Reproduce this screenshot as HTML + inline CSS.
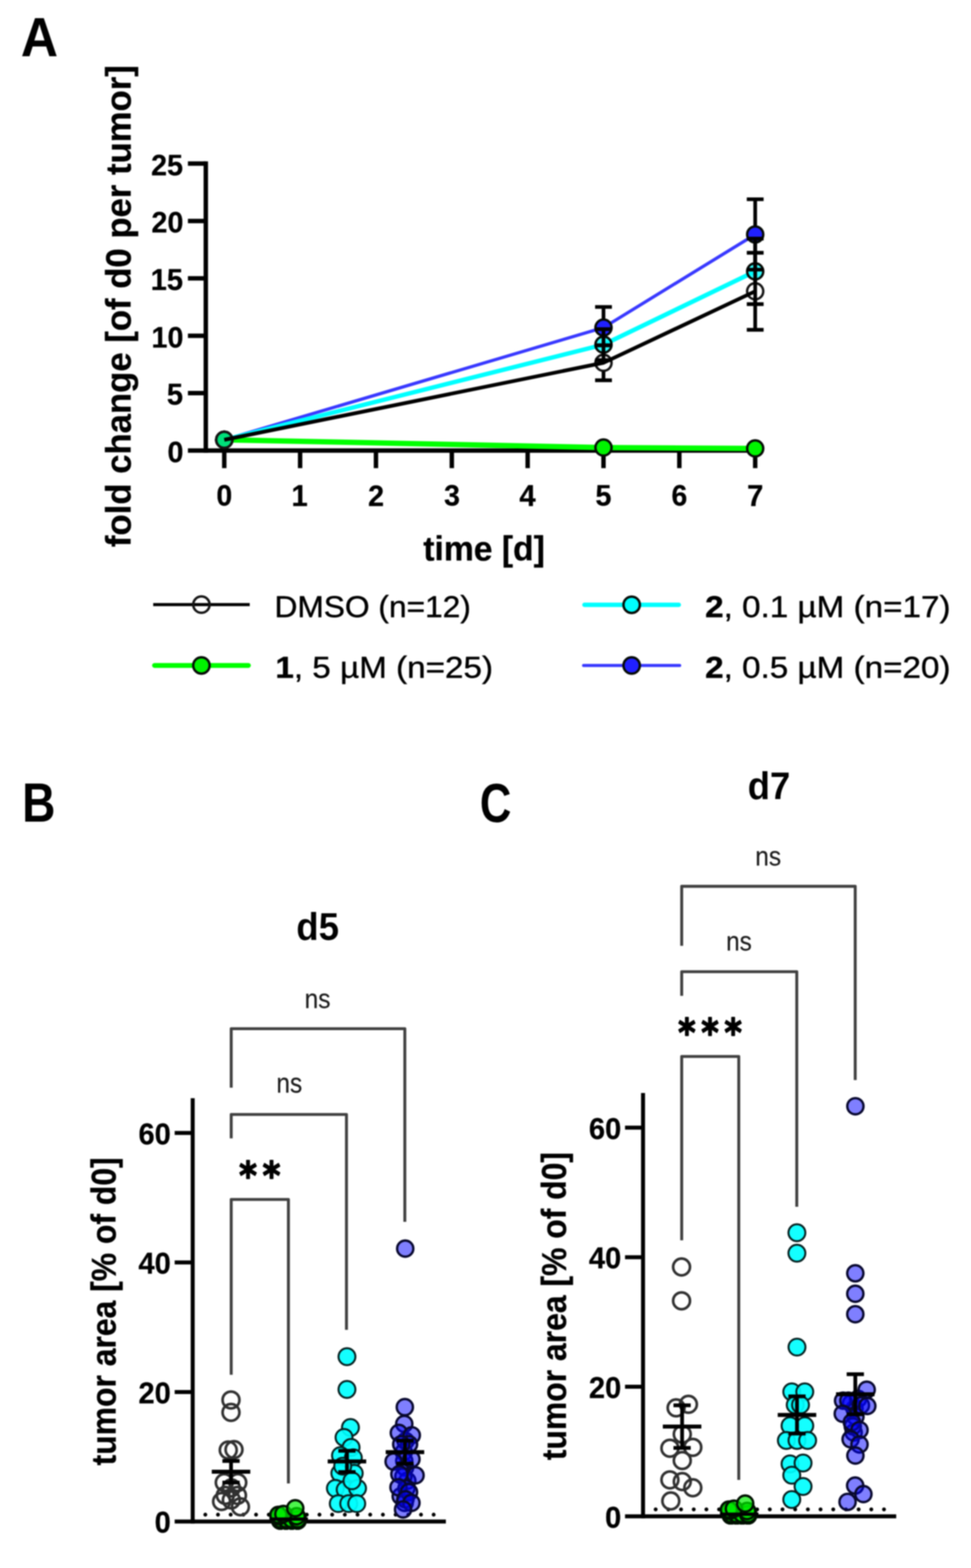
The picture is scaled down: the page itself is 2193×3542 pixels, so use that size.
<!DOCTYPE html>
<html lang="en"><head><meta charset="utf-8"><title>Figure</title>
<style>
html,body{margin:0;padding:0;background:#fff;}
body{width:2193px;height:3542px;overflow:hidden;}
svg{display:block;filter:blur(1.50px);}
text{font-size:100px;white-space:pre;font-kerning:auto;}
</style></head><body>
<svg width="2193" height="3542" viewBox="0 0 2193 3542">
<rect width="2193" height="3542" fill="#fff"/>
<g id="shapes">
<line x1="464.8" y1="364.6" x2="464.8" y2="1022.8" stroke="#000" stroke-width="10.0" stroke-linecap="butt"/>
<line x1="424.4" y1="1017.8" x2="1710.6" y2="1017.8" stroke="#000" stroke-width="10.0" stroke-linecap="butt"/>
<line x1="424.4" y1="888.1" x2="464.8" y2="888.1" stroke="#000" stroke-width="10.0" stroke-linecap="butt"/>
<line x1="424.4" y1="758.5" x2="464.8" y2="758.5" stroke="#000" stroke-width="10.0" stroke-linecap="butt"/>
<line x1="424.4" y1="628.8" x2="464.8" y2="628.8" stroke="#000" stroke-width="10.0" stroke-linecap="butt"/>
<line x1="424.4" y1="499.2" x2="464.8" y2="499.2" stroke="#000" stroke-width="10.0" stroke-linecap="butt"/>
<line x1="424.4" y1="369.5" x2="464.8" y2="369.5" stroke="#000" stroke-width="10.0" stroke-linecap="butt"/>
<line x1="506.5" y1="1017.8" x2="506.5" y2="1057.5" stroke="#000" stroke-width="10.0" stroke-linecap="butt"/>
<line x1="677.8" y1="1017.8" x2="677.8" y2="1057.5" stroke="#000" stroke-width="10.0" stroke-linecap="butt"/>
<line x1="849.1" y1="1017.8" x2="849.1" y2="1057.5" stroke="#000" stroke-width="10.0" stroke-linecap="butt"/>
<line x1="1020.4" y1="1017.8" x2="1020.4" y2="1057.5" stroke="#000" stroke-width="10.0" stroke-linecap="butt"/>
<line x1="1191.7" y1="1017.8" x2="1191.7" y2="1057.5" stroke="#000" stroke-width="10.0" stroke-linecap="butt"/>
<line x1="1363.0" y1="1017.8" x2="1363.0" y2="1057.5" stroke="#000" stroke-width="10.0" stroke-linecap="butt"/>
<line x1="1534.3" y1="1017.8" x2="1534.3" y2="1057.5" stroke="#000" stroke-width="10.0" stroke-linecap="butt"/>
<line x1="1705.6" y1="1017.8" x2="1705.6" y2="1057.5" stroke="#000" stroke-width="10.0" stroke-linecap="butt"/>
<polyline points="506.5,993.5 1363.0,740.0 1705.6,529.6" fill="none" stroke="#3838ff" stroke-width="7.3" stroke-linejoin="round" stroke-linecap="butt"/>
<polyline points="506.5,993.5 1363.0,778.5 1705.6,613.0" fill="none" stroke="#00ffff" stroke-width="10.0" stroke-linejoin="round" stroke-linecap="butt"/>
<polyline points="506.5,993.5 1363.0,1011.0 1705.6,1013.0" fill="none" stroke="#00ff00" stroke-width="12.0" stroke-linejoin="round" stroke-linecap="butt"/>
<circle cx="506.5" cy="993.5" r="18.2" fill="#2020ff" fill-opacity="1.00" stroke="#050a05" stroke-width="5.5"/>
<circle cx="1363.0" cy="740.0" r="18.2" fill="#2020ff" fill-opacity="1.00" stroke="#050a05" stroke-width="5.5"/>
<circle cx="1705.6" cy="529.6" r="18.2" fill="#2020ff" fill-opacity="1.00" stroke="#050a05" stroke-width="5.5"/>
<circle cx="506.5" cy="993.5" r="18.2" fill="#00ffff" fill-opacity="0.80" stroke="#050a05" stroke-width="5.5"/>
<circle cx="1363.0" cy="778.5" r="18.2" fill="#00ffff" fill-opacity="0.80" stroke="#050a05" stroke-width="5.5"/>
<circle cx="1705.6" cy="613.0" r="18.2" fill="#00ffff" fill-opacity="0.80" stroke="#050a05" stroke-width="5.5"/>
<circle cx="506.5" cy="993.5" r="18.2" fill="#00f400" fill-opacity="1.00" stroke="#050a05" stroke-width="5.5"/>
<circle cx="1363.0" cy="1011.0" r="18.2" fill="#00f400" fill-opacity="1.00" stroke="#050a05" stroke-width="5.5"/>
<circle cx="1705.6" cy="1013.0" r="18.2" fill="#00f400" fill-opacity="1.00" stroke="#050a05" stroke-width="5.5"/>
<circle cx="506.5" cy="993.5" r="18.2" fill="#00e07a" fill-opacity="1.00" stroke="#050a05" stroke-width="5.5"/>
<circle cx="506.5" cy="993.5" r="18.2" fill="#fff" fill-opacity="0.00" stroke="#141414" stroke-width="5.5"/>
<circle cx="1363.0" cy="819.5" r="18.2" fill="#fff" fill-opacity="0.00" stroke="#141414" stroke-width="5.5"/>
<circle cx="1705.6" cy="658.0" r="18.2" fill="#fff" fill-opacity="0.00" stroke="#141414" stroke-width="5.5"/>
<polyline points="506.5,993.5 1363.0,819.5 1705.6,658.0" fill="none" stroke="#000" stroke-width="8.5" stroke-linejoin="round" stroke-linecap="butt"/>
<line x1="1363.0" y1="693.3" x2="1363.0" y2="720.2" stroke="#000" stroke-width="8.3" stroke-linecap="butt"/>
<line x1="1363.0" y1="759.8" x2="1363.0" y2="780.0" stroke="#000" stroke-width="8.3" stroke-linecap="butt"/>
<line x1="1344.0" y1="693.3" x2="1382.0" y2="693.3" stroke="#000" stroke-width="8.3" stroke-linecap="butt"/>
<line x1="1344.0" y1="780.0" x2="1382.0" y2="780.0" stroke="#000" stroke-width="8.3" stroke-linecap="butt"/>
<line x1="1705.6" y1="450.1" x2="1705.6" y2="509.8" stroke="#000" stroke-width="8.3" stroke-linecap="butt"/>
<line x1="1705.6" y1="549.4" x2="1705.6" y2="609.1" stroke="#000" stroke-width="8.3" stroke-linecap="butt"/>
<line x1="1686.6" y1="450.1" x2="1724.6" y2="450.1" stroke="#000" stroke-width="8.3" stroke-linecap="butt"/>
<line x1="1686.6" y1="609.1" x2="1724.6" y2="609.1" stroke="#000" stroke-width="8.3" stroke-linecap="butt"/>
<line x1="1363.0" y1="743.5" x2="1363.0" y2="758.7" stroke="#000" stroke-width="8.3" stroke-linecap="butt"/>
<line x1="1363.0" y1="798.3" x2="1363.0" y2="813.5" stroke="#000" stroke-width="8.3" stroke-linecap="butt"/>
<line x1="1344.0" y1="743.5" x2="1382.0" y2="743.5" stroke="#000" stroke-width="8.3" stroke-linecap="butt"/>
<line x1="1344.0" y1="813.5" x2="1382.0" y2="813.5" stroke="#000" stroke-width="8.3" stroke-linecap="butt"/>
<line x1="1705.6" y1="539.0" x2="1705.6" y2="593.2" stroke="#000" stroke-width="8.3" stroke-linecap="butt"/>
<line x1="1705.6" y1="632.8" x2="1705.6" y2="687.0" stroke="#000" stroke-width="8.3" stroke-linecap="butt"/>
<line x1="1686.6" y1="539.0" x2="1724.6" y2="539.0" stroke="#000" stroke-width="8.3" stroke-linecap="butt"/>
<line x1="1686.6" y1="687.0" x2="1724.6" y2="687.0" stroke="#000" stroke-width="8.3" stroke-linecap="butt"/>
<line x1="1363.0" y1="780.0" x2="1363.0" y2="799.7" stroke="#000" stroke-width="8.3" stroke-linecap="butt"/>
<line x1="1363.0" y1="839.3" x2="1363.0" y2="859.0" stroke="#000" stroke-width="8.3" stroke-linecap="butt"/>
<line x1="1344.0" y1="780.0" x2="1382.0" y2="780.0" stroke="#000" stroke-width="8.3" stroke-linecap="butt"/>
<line x1="1344.0" y1="859.0" x2="1382.0" y2="859.0" stroke="#000" stroke-width="8.3" stroke-linecap="butt"/>
<line x1="1705.6" y1="571.0" x2="1705.6" y2="638.2" stroke="#000" stroke-width="8.3" stroke-linecap="butt"/>
<line x1="1705.6" y1="677.8" x2="1705.6" y2="745.0" stroke="#000" stroke-width="8.3" stroke-linecap="butt"/>
<line x1="1686.6" y1="571.0" x2="1724.6" y2="571.0" stroke="#000" stroke-width="8.3" stroke-linecap="butt"/>
<line x1="1686.6" y1="745.0" x2="1724.6" y2="745.0" stroke="#000" stroke-width="8.3" stroke-linecap="butt"/>
<line x1="346.0" y1="1365.8" x2="564.0" y2="1365.8" stroke="#000" stroke-width="7.0" stroke-linecap="butt"/>
<circle cx="454.9" cy="1365.8" r="18.5" fill="#fff" fill-opacity="0.00" stroke="#141414" stroke-width="5.5"/>
<line x1="349.0" y1="1503.2" x2="561.0" y2="1503.2" stroke="#00ff00" stroke-width="11.0" stroke-linecap="round"/>
<circle cx="454.9" cy="1503.2" r="18.5" fill="#00f400" fill-opacity="1.00" stroke="#050a05" stroke-width="5.5"/>
<line x1="1320.0" y1="1366.2" x2="1533.0" y2="1366.2" stroke="#00ffff" stroke-width="10.0" stroke-linecap="round"/>
<circle cx="1426.6" cy="1366.2" r="18.5" fill="#00ffff" fill-opacity="1.00" stroke="#050a05" stroke-width="5.5"/>
<line x1="1318.0" y1="1503.3" x2="1535.0" y2="1503.3" stroke="#3838ff" stroke-width="7.0" stroke-linecap="round"/>
<circle cx="1426.6" cy="1503.3" r="18.5" fill="#2020ff" fill-opacity="1.00" stroke="#050a05" stroke-width="5.5"/>
<circle cx="463.7" cy="3421.5" r="4.4" fill="#000"/>
<circle cx="492.3" cy="3421.5" r="4.4" fill="#000"/>
<circle cx="521.0" cy="3421.5" r="4.4" fill="#000"/>
<circle cx="549.6" cy="3421.5" r="4.4" fill="#000"/>
<circle cx="578.3" cy="3421.5" r="4.4" fill="#000"/>
<circle cx="607.0" cy="3421.5" r="4.4" fill="#000"/>
<circle cx="635.6" cy="3421.5" r="4.4" fill="#000"/>
<circle cx="664.2" cy="3421.5" r="4.4" fill="#000"/>
<circle cx="692.9" cy="3421.5" r="4.4" fill="#000"/>
<circle cx="721.5" cy="3421.5" r="4.4" fill="#000"/>
<circle cx="750.2" cy="3421.5" r="4.4" fill="#000"/>
<circle cx="778.8" cy="3421.5" r="4.4" fill="#000"/>
<circle cx="807.5" cy="3421.5" r="4.4" fill="#000"/>
<circle cx="836.1" cy="3421.5" r="4.4" fill="#000"/>
<circle cx="864.8" cy="3421.5" r="4.4" fill="#000"/>
<circle cx="893.5" cy="3421.5" r="4.4" fill="#000"/>
<circle cx="922.1" cy="3421.5" r="4.4" fill="#000"/>
<circle cx="950.8" cy="3421.5" r="4.4" fill="#000"/>
<circle cx="979.4" cy="3421.5" r="4.4" fill="#000"/>
<line x1="435.2" y1="2480.8" x2="435.2" y2="3441.6" stroke="#000" stroke-width="9.0" stroke-linecap="butt"/>
<line x1="394.5" y1="3437.1" x2="1007.0" y2="3437.1" stroke="#000" stroke-width="9.0" stroke-linecap="butt"/>
<line x1="394.5" y1="3144.5" x2="435.2" y2="3144.5" stroke="#000" stroke-width="9.0" stroke-linecap="butt"/>
<line x1="394.5" y1="2851.8" x2="435.2" y2="2851.8" stroke="#000" stroke-width="9.0" stroke-linecap="butt"/>
<line x1="394.5" y1="2559.2" x2="435.2" y2="2559.2" stroke="#000" stroke-width="9.0" stroke-linecap="butt"/>
<polyline points="522.2,3105.6 522.2,2709.5 651.4,2709.5 651.4,3351.0" fill="none" stroke="#404040" stroke-width="6.6" stroke-linejoin="round" stroke-linecap="butt"/>
<polyline points="522.2,2571.4 522.2,2517.5 782.5,2517.5 782.5,3004.0" fill="none" stroke="#404040" stroke-width="6.6" stroke-linejoin="round" stroke-linecap="butt"/>
<polyline points="522.2,2457.1 522.2,2323.8 914.3,2323.8 914.3,2760.0" fill="none" stroke="#404040" stroke-width="6.6" stroke-linejoin="round" stroke-linecap="butt"/>
<circle cx="521.7" cy="3162.4" r="19.0" fill="#fff" fill-opacity="0.00" stroke="#303030" stroke-width="6.0"/>
<circle cx="521.7" cy="3190.5" r="19.0" fill="#fff" fill-opacity="0.00" stroke="#303030" stroke-width="6.0"/>
<circle cx="515.5" cy="3275.6" r="19.0" fill="#fff" fill-opacity="0.00" stroke="#303030" stroke-width="6.0"/>
<circle cx="528.5" cy="3274.5" r="19.0" fill="#fff" fill-opacity="0.00" stroke="#303030" stroke-width="6.0"/>
<circle cx="506.5" cy="3349.0" r="19.0" fill="#fff" fill-opacity="0.00" stroke="#303030" stroke-width="6.0"/>
<circle cx="537.0" cy="3349.0" r="19.0" fill="#fff" fill-opacity="0.00" stroke="#303030" stroke-width="6.0"/>
<circle cx="522.5" cy="3361.0" r="19.0" fill="#fff" fill-opacity="0.00" stroke="#303030" stroke-width="6.0"/>
<circle cx="508.8" cy="3378.0" r="19.0" fill="#fff" fill-opacity="0.00" stroke="#303030" stroke-width="6.0"/>
<circle cx="536.3" cy="3378.0" r="19.0" fill="#fff" fill-opacity="0.00" stroke="#303030" stroke-width="6.0"/>
<circle cx="522.5" cy="3388.3" r="19.0" fill="#fff" fill-opacity="0.00" stroke="#303030" stroke-width="6.0"/>
<circle cx="500.5" cy="3391.7" r="19.0" fill="#fff" fill-opacity="0.00" stroke="#303030" stroke-width="6.0"/>
<circle cx="543.0" cy="3403.8" r="19.0" fill="#fff" fill-opacity="0.00" stroke="#303030" stroke-width="6.0"/>
<line x1="521.8" y1="3300.3" x2="521.8" y2="3348.9" stroke="#000" stroke-width="8.5" stroke-linecap="butt"/>
<line x1="502.3" y1="3300.3" x2="541.3" y2="3300.3" stroke="#000" stroke-width="8.5" stroke-linecap="butt"/>
<line x1="502.3" y1="3348.9" x2="541.3" y2="3348.9" stroke="#000" stroke-width="8.5" stroke-linecap="butt"/>
<line x1="478.3" y1="3324.6" x2="565.3" y2="3324.6" stroke="#000" stroke-width="9.0" stroke-linecap="butt"/>
<circle cx="633.0" cy="3435.0" r="18.3" fill="#00f000" fill-opacity="0.70" stroke="#001000" stroke-width="5.4"/>
<circle cx="646.0" cy="3435.0" r="18.3" fill="#00f000" fill-opacity="0.70" stroke="#001000" stroke-width="5.4"/>
<circle cx="659.0" cy="3435.0" r="18.3" fill="#00f000" fill-opacity="0.70" stroke="#001000" stroke-width="5.4"/>
<circle cx="672.0" cy="3435.0" r="18.3" fill="#00f000" fill-opacity="0.70" stroke="#001000" stroke-width="5.4"/>
<circle cx="633.0" cy="3435.0" r="18.3" fill="#00f000" fill-opacity="0.70" stroke="#001000" stroke-width="5.4"/>
<circle cx="646.0" cy="3435.0" r="18.3" fill="#00f000" fill-opacity="0.70" stroke="#001000" stroke-width="5.4"/>
<circle cx="659.0" cy="3435.0" r="18.3" fill="#00f000" fill-opacity="0.70" stroke="#001000" stroke-width="5.4"/>
<circle cx="672.0" cy="3435.0" r="18.3" fill="#00f000" fill-opacity="0.70" stroke="#001000" stroke-width="5.4"/>
<circle cx="633.0" cy="3435.0" r="18.3" fill="#00f000" fill-opacity="0.70" stroke="#001000" stroke-width="5.4"/>
<circle cx="646.0" cy="3435.0" r="18.3" fill="#00f000" fill-opacity="0.70" stroke="#001000" stroke-width="5.4"/>
<circle cx="659.0" cy="3435.0" r="18.3" fill="#00f000" fill-opacity="0.70" stroke="#001000" stroke-width="5.4"/>
<circle cx="672.0" cy="3435.0" r="18.3" fill="#00f000" fill-opacity="0.70" stroke="#001000" stroke-width="5.4"/>
<circle cx="633.0" cy="3432.0" r="18.3" fill="#00f000" fill-opacity="0.70" stroke="#001000" stroke-width="5.4"/>
<circle cx="646.0" cy="3432.0" r="18.3" fill="#00f000" fill-opacity="0.70" stroke="#001000" stroke-width="5.4"/>
<circle cx="659.0" cy="3432.0" r="18.3" fill="#00f000" fill-opacity="0.70" stroke="#001000" stroke-width="5.4"/>
<circle cx="672.0" cy="3432.0" r="18.3" fill="#00f000" fill-opacity="0.70" stroke="#001000" stroke-width="5.4"/>
<circle cx="633.0" cy="3432.0" r="18.3" fill="#00f000" fill-opacity="0.70" stroke="#001000" stroke-width="5.4"/>
<circle cx="646.0" cy="3432.0" r="18.3" fill="#00f000" fill-opacity="0.70" stroke="#001000" stroke-width="5.4"/>
<circle cx="659.0" cy="3432.0" r="18.3" fill="#00f000" fill-opacity="0.70" stroke="#001000" stroke-width="5.4"/>
<circle cx="672.0" cy="3432.0" r="18.3" fill="#00f000" fill-opacity="0.70" stroke="#001000" stroke-width="5.4"/>
<circle cx="630.0" cy="3425.0" r="18.3" fill="#00f000" fill-opacity="0.70" stroke="#001000" stroke-width="5.4"/>
<circle cx="670.0" cy="3425.0" r="18.3" fill="#00f000" fill-opacity="0.70" stroke="#001000" stroke-width="5.4"/>
<circle cx="628.7" cy="3422.0" r="18.3" fill="#00f000" fill-opacity="0.70" stroke="#001000" stroke-width="5.4"/>
<circle cx="640.0" cy="3420.0" r="18.3" fill="#00f000" fill-opacity="0.70" stroke="#001000" stroke-width="5.4"/>
<circle cx="666.8" cy="3407.0" r="18.3" fill="#00f000" fill-opacity="0.70" stroke="#001000" stroke-width="5.4"/>
<line x1="608.5" y1="3431.5" x2="695.5" y2="3431.5" stroke="#000" stroke-width="7.5" stroke-linecap="butt"/>
<circle cx="783.6" cy="3064.6" r="19.1" fill="#00ffff" fill-opacity="0.92" stroke="#062020" stroke-width="4.5"/>
<circle cx="783.6" cy="3138.6" r="19.1" fill="#00ffff" fill-opacity="0.92" stroke="#062020" stroke-width="4.5"/>
<circle cx="791.5" cy="3224.6" r="19.1" fill="#00ffff" fill-opacity="0.92" stroke="#062020" stroke-width="4.5"/>
<circle cx="777.0" cy="3247.0" r="19.1" fill="#00ffff" fill-opacity="0.92" stroke="#062020" stroke-width="4.5"/>
<circle cx="792.9" cy="3269.6" r="19.1" fill="#00ffff" fill-opacity="0.92" stroke="#062020" stroke-width="4.5"/>
<circle cx="769.0" cy="3288.0" r="19.1" fill="#00ffff" fill-opacity="0.92" stroke="#062020" stroke-width="4.5"/>
<circle cx="798.0" cy="3293.0" r="19.1" fill="#00ffff" fill-opacity="0.92" stroke="#062020" stroke-width="4.5"/>
<circle cx="767.5" cy="3328.0" r="19.1" fill="#00ffff" fill-opacity="0.92" stroke="#062020" stroke-width="4.5"/>
<circle cx="800.0" cy="3328.0" r="19.1" fill="#00ffff" fill-opacity="0.92" stroke="#062020" stroke-width="4.5"/>
<circle cx="757.5" cy="3362.0" r="19.1" fill="#00ffff" fill-opacity="0.92" stroke="#062020" stroke-width="4.5"/>
<circle cx="779.6" cy="3365.0" r="19.1" fill="#00ffff" fill-opacity="0.92" stroke="#062020" stroke-width="4.5"/>
<circle cx="807.5" cy="3362.0" r="19.1" fill="#00ffff" fill-opacity="0.92" stroke="#062020" stroke-width="4.5"/>
<circle cx="764.0" cy="3396.5" r="19.1" fill="#00ffff" fill-opacity="0.92" stroke="#062020" stroke-width="4.5"/>
<circle cx="787.6" cy="3396.5" r="19.1" fill="#00ffff" fill-opacity="0.92" stroke="#062020" stroke-width="4.5"/>
<circle cx="805.7" cy="3396.5" r="19.1" fill="#00ffff" fill-opacity="0.92" stroke="#062020" stroke-width="4.5"/>
<circle cx="774.0" cy="3312.0" r="19.1" fill="#00ffff" fill-opacity="0.92" stroke="#062020" stroke-width="4.5"/>
<circle cx="795.0" cy="3345.0" r="19.1" fill="#00ffff" fill-opacity="0.92" stroke="#062020" stroke-width="4.5"/>
<line x1="783.6" y1="3277.3" x2="783.6" y2="3325.3" stroke="#000" stroke-width="8.5" stroke-linecap="butt"/>
<line x1="764.1" y1="3277.3" x2="803.1" y2="3277.3" stroke="#000" stroke-width="8.5" stroke-linecap="butt"/>
<line x1="764.1" y1="3325.3" x2="803.1" y2="3325.3" stroke="#000" stroke-width="8.5" stroke-linecap="butt"/>
<line x1="740.1" y1="3301.3" x2="827.1" y2="3301.3" stroke="#000" stroke-width="9.0" stroke-linecap="butt"/>
<circle cx="915.2" cy="2820.5" r="18.3" fill="#0000ff" fill-opacity="0.50" stroke="#08082e" stroke-width="5.4"/>
<circle cx="912.0" cy="3280.0" r="18.3" fill="#0000ff" fill-opacity="0.50" stroke="#08082e" stroke-width="5.4"/>
<circle cx="915.0" cy="3315.0" r="18.3" fill="#0000ff" fill-opacity="0.50" stroke="#08082e" stroke-width="5.4"/>
<circle cx="920.0" cy="3345.0" r="18.3" fill="#0000ff" fill-opacity="0.50" stroke="#08082e" stroke-width="5.4"/>
<circle cx="905.0" cy="3380.0" r="18.3" fill="#0000ff" fill-opacity="0.50" stroke="#08082e" stroke-width="5.4"/>
<circle cx="916.0" cy="3255.0" r="18.3" fill="#0000ff" fill-opacity="0.50" stroke="#08082e" stroke-width="5.4"/>
<circle cx="913.0" cy="3300.0" r="18.3" fill="#0000ff" fill-opacity="0.50" stroke="#08082e" stroke-width="5.4"/>
<circle cx="911.0" cy="3335.0" r="18.3" fill="#0000ff" fill-opacity="0.50" stroke="#08082e" stroke-width="5.4"/>
<circle cx="918.0" cy="3362.0" r="18.3" fill="#0000ff" fill-opacity="0.50" stroke="#08082e" stroke-width="5.4"/>
<circle cx="914.0" cy="3395.0" r="18.3" fill="#0000ff" fill-opacity="0.50" stroke="#08082e" stroke-width="5.4"/>
<circle cx="914.3" cy="3178.6" r="18.3" fill="#0000ff" fill-opacity="0.50" stroke="#08082e" stroke-width="5.4"/>
<circle cx="913.0" cy="3216.5" r="18.3" fill="#0000ff" fill-opacity="0.50" stroke="#08082e" stroke-width="5.4"/>
<circle cx="900.8" cy="3236.8" r="18.3" fill="#0000ff" fill-opacity="0.50" stroke="#08082e" stroke-width="5.4"/>
<circle cx="930.0" cy="3242.2" r="18.3" fill="#0000ff" fill-opacity="0.50" stroke="#08082e" stroke-width="5.4"/>
<circle cx="923.8" cy="3262.4" r="18.3" fill="#0000ff" fill-opacity="0.50" stroke="#08082e" stroke-width="5.4"/>
<circle cx="906.2" cy="3262.4" r="18.3" fill="#0000ff" fill-opacity="0.50" stroke="#08082e" stroke-width="5.4"/>
<circle cx="889.0" cy="3301.6" r="18.3" fill="#0000ff" fill-opacity="0.50" stroke="#08082e" stroke-width="5.4"/>
<circle cx="929.2" cy="3296.2" r="18.3" fill="#0000ff" fill-opacity="0.50" stroke="#08082e" stroke-width="5.4"/>
<circle cx="902.0" cy="3330.0" r="18.3" fill="#0000ff" fill-opacity="0.50" stroke="#08082e" stroke-width="5.4"/>
<circle cx="938.5" cy="3332.7" r="18.3" fill="#0000ff" fill-opacity="0.50" stroke="#08082e" stroke-width="5.4"/>
<circle cx="900.0" cy="3359.7" r="18.3" fill="#0000ff" fill-opacity="0.50" stroke="#08082e" stroke-width="5.4"/>
<circle cx="923.8" cy="3370.5" r="18.3" fill="#0000ff" fill-opacity="0.50" stroke="#08082e" stroke-width="5.4"/>
<circle cx="915.7" cy="3386.8" r="18.3" fill="#0000ff" fill-opacity="0.50" stroke="#08082e" stroke-width="5.4"/>
<circle cx="929.2" cy="3394.9" r="18.3" fill="#0000ff" fill-opacity="0.50" stroke="#08082e" stroke-width="5.4"/>
<circle cx="910.3" cy="3409.7" r="18.3" fill="#0000ff" fill-opacity="0.50" stroke="#08082e" stroke-width="5.4"/>
<line x1="914.6" y1="3254.2" x2="914.6" y2="3306.2" stroke="#000" stroke-width="8.5" stroke-linecap="butt"/>
<line x1="895.1" y1="3254.2" x2="934.1" y2="3254.2" stroke="#000" stroke-width="8.5" stroke-linecap="butt"/>
<line x1="895.1" y1="3306.2" x2="934.1" y2="3306.2" stroke="#000" stroke-width="8.5" stroke-linecap="butt"/>
<line x1="871.1" y1="3280.2" x2="958.1" y2="3280.2" stroke="#000" stroke-width="9.0" stroke-linecap="butt"/>
<circle cx="1480.8" cy="3409.6" r="4.4" fill="#000"/>
<circle cx="1509.5" cy="3409.6" r="4.4" fill="#000"/>
<circle cx="1538.1" cy="3409.6" r="4.4" fill="#000"/>
<circle cx="1566.8" cy="3409.6" r="4.4" fill="#000"/>
<circle cx="1595.4" cy="3409.6" r="4.4" fill="#000"/>
<circle cx="1624.0" cy="3409.6" r="4.4" fill="#000"/>
<circle cx="1652.7" cy="3409.6" r="4.4" fill="#000"/>
<circle cx="1681.3" cy="3409.6" r="4.4" fill="#000"/>
<circle cx="1710.0" cy="3409.6" r="4.4" fill="#000"/>
<circle cx="1738.6" cy="3409.6" r="4.4" fill="#000"/>
<circle cx="1767.3" cy="3409.6" r="4.4" fill="#000"/>
<circle cx="1795.9" cy="3409.6" r="4.4" fill="#000"/>
<circle cx="1824.6" cy="3409.6" r="4.4" fill="#000"/>
<circle cx="1853.2" cy="3409.6" r="4.4" fill="#000"/>
<circle cx="1881.9" cy="3409.6" r="4.4" fill="#000"/>
<circle cx="1910.5" cy="3409.6" r="4.4" fill="#000"/>
<circle cx="1939.2" cy="3409.6" r="4.4" fill="#000"/>
<circle cx="1967.8" cy="3409.6" r="4.4" fill="#000"/>
<circle cx="1996.5" cy="3409.6" r="4.4" fill="#000"/>
<line x1="1452.3" y1="2468.9" x2="1452.3" y2="3429.7" stroke="#000" stroke-width="9.0" stroke-linecap="butt"/>
<line x1="1411.6" y1="3425.2" x2="2024.1" y2="3425.2" stroke="#000" stroke-width="9.0" stroke-linecap="butt"/>
<line x1="1411.6" y1="3132.6" x2="1452.3" y2="3132.6" stroke="#000" stroke-width="9.0" stroke-linecap="butt"/>
<line x1="1411.6" y1="2839.9" x2="1452.3" y2="2839.9" stroke="#000" stroke-width="9.0" stroke-linecap="butt"/>
<line x1="1411.6" y1="2547.3" x2="1452.3" y2="2547.3" stroke="#000" stroke-width="9.0" stroke-linecap="butt"/>
<polyline points="1539.6,2801.8 1539.6,2386.5 1668.5,2386.5 1668.5,3342.9" fill="none" stroke="#404040" stroke-width="6.6" stroke-linejoin="round" stroke-linecap="butt"/>
<polyline points="1539.6,2249.6 1539.6,2195.0 1799.5,2195.0 1799.5,2726.0" fill="none" stroke="#404040" stroke-width="6.6" stroke-linejoin="round" stroke-linecap="butt"/>
<polyline points="1539.6,2136.5 1539.6,2002.1 1931.5,2002.1 1931.5,2439.7" fill="none" stroke="#404040" stroke-width="6.6" stroke-linejoin="round" stroke-linecap="butt"/>
<circle cx="1539.3" cy="2862.0" r="19.0" fill="#fff" fill-opacity="0.00" stroke="#303030" stroke-width="6.0"/>
<circle cx="1539.3" cy="2938.4" r="19.0" fill="#fff" fill-opacity="0.00" stroke="#303030" stroke-width="6.0"/>
<circle cx="1527.0" cy="3180.2" r="19.0" fill="#fff" fill-opacity="0.00" stroke="#303030" stroke-width="6.0"/>
<circle cx="1554.8" cy="3172.2" r="19.0" fill="#fff" fill-opacity="0.00" stroke="#303030" stroke-width="6.0"/>
<circle cx="1540.9" cy="3239.7" r="19.0" fill="#fff" fill-opacity="0.00" stroke="#303030" stroke-width="6.0"/>
<circle cx="1513.0" cy="3271.4" r="19.0" fill="#fff" fill-opacity="0.00" stroke="#303030" stroke-width="6.0"/>
<circle cx="1564.7" cy="3269.4" r="19.0" fill="#fff" fill-opacity="0.00" stroke="#303030" stroke-width="6.0"/>
<circle cx="1540.9" cy="3299.2" r="19.0" fill="#fff" fill-opacity="0.00" stroke="#303030" stroke-width="6.0"/>
<circle cx="1513.0" cy="3342.9" r="19.0" fill="#fff" fill-opacity="0.00" stroke="#303030" stroke-width="6.0"/>
<circle cx="1540.9" cy="3346.8" r="19.0" fill="#fff" fill-opacity="0.00" stroke="#303030" stroke-width="6.0"/>
<circle cx="1564.7" cy="3360.7" r="19.0" fill="#fff" fill-opacity="0.00" stroke="#303030" stroke-width="6.0"/>
<circle cx="1515.0" cy="3390.5" r="19.0" fill="#fff" fill-opacity="0.00" stroke="#303030" stroke-width="6.0"/>
<line x1="1540.5" y1="3174.4" x2="1540.5" y2="3270.8" stroke="#000" stroke-width="8.5" stroke-linecap="butt"/>
<line x1="1521.0" y1="3174.4" x2="1560.0" y2="3174.4" stroke="#000" stroke-width="8.5" stroke-linecap="butt"/>
<line x1="1521.0" y1="3270.8" x2="1560.0" y2="3270.8" stroke="#000" stroke-width="8.5" stroke-linecap="butt"/>
<line x1="1497.0" y1="3222.6" x2="1584.0" y2="3222.6" stroke="#000" stroke-width="9.0" stroke-linecap="butt"/>
<circle cx="1650.5" cy="3423.1" r="18.3" fill="#00f000" fill-opacity="0.70" stroke="#001000" stroke-width="5.4"/>
<circle cx="1663.5" cy="3423.1" r="18.3" fill="#00f000" fill-opacity="0.70" stroke="#001000" stroke-width="5.4"/>
<circle cx="1676.5" cy="3423.1" r="18.3" fill="#00f000" fill-opacity="0.70" stroke="#001000" stroke-width="5.4"/>
<circle cx="1689.5" cy="3423.1" r="18.3" fill="#00f000" fill-opacity="0.70" stroke="#001000" stroke-width="5.4"/>
<circle cx="1650.5" cy="3423.1" r="18.3" fill="#00f000" fill-opacity="0.70" stroke="#001000" stroke-width="5.4"/>
<circle cx="1663.5" cy="3423.1" r="18.3" fill="#00f000" fill-opacity="0.70" stroke="#001000" stroke-width="5.4"/>
<circle cx="1676.5" cy="3423.1" r="18.3" fill="#00f000" fill-opacity="0.70" stroke="#001000" stroke-width="5.4"/>
<circle cx="1689.5" cy="3423.1" r="18.3" fill="#00f000" fill-opacity="0.70" stroke="#001000" stroke-width="5.4"/>
<circle cx="1650.5" cy="3423.1" r="18.3" fill="#00f000" fill-opacity="0.70" stroke="#001000" stroke-width="5.4"/>
<circle cx="1663.5" cy="3423.1" r="18.3" fill="#00f000" fill-opacity="0.70" stroke="#001000" stroke-width="5.4"/>
<circle cx="1676.5" cy="3423.1" r="18.3" fill="#00f000" fill-opacity="0.70" stroke="#001000" stroke-width="5.4"/>
<circle cx="1689.5" cy="3423.1" r="18.3" fill="#00f000" fill-opacity="0.70" stroke="#001000" stroke-width="5.4"/>
<circle cx="1650.5" cy="3420.1" r="18.3" fill="#00f000" fill-opacity="0.70" stroke="#001000" stroke-width="5.4"/>
<circle cx="1663.5" cy="3420.1" r="18.3" fill="#00f000" fill-opacity="0.70" stroke="#001000" stroke-width="5.4"/>
<circle cx="1676.5" cy="3420.1" r="18.3" fill="#00f000" fill-opacity="0.70" stroke="#001000" stroke-width="5.4"/>
<circle cx="1689.5" cy="3420.1" r="18.3" fill="#00f000" fill-opacity="0.70" stroke="#001000" stroke-width="5.4"/>
<circle cx="1650.5" cy="3420.1" r="18.3" fill="#00f000" fill-opacity="0.70" stroke="#001000" stroke-width="5.4"/>
<circle cx="1663.5" cy="3420.1" r="18.3" fill="#00f000" fill-opacity="0.70" stroke="#001000" stroke-width="5.4"/>
<circle cx="1676.5" cy="3420.1" r="18.3" fill="#00f000" fill-opacity="0.70" stroke="#001000" stroke-width="5.4"/>
<circle cx="1689.5" cy="3420.1" r="18.3" fill="#00f000" fill-opacity="0.70" stroke="#001000" stroke-width="5.4"/>
<circle cx="1647.5" cy="3413.1" r="18.3" fill="#00f000" fill-opacity="0.70" stroke="#001000" stroke-width="5.4"/>
<circle cx="1687.5" cy="3413.1" r="18.3" fill="#00f000" fill-opacity="0.70" stroke="#001000" stroke-width="5.4"/>
<circle cx="1646.2" cy="3410.1" r="18.3" fill="#00f000" fill-opacity="0.70" stroke="#001000" stroke-width="5.4"/>
<circle cx="1657.5" cy="3408.1" r="18.3" fill="#00f000" fill-opacity="0.70" stroke="#001000" stroke-width="5.4"/>
<circle cx="1683.0" cy="3396.5" r="18.3" fill="#00f000" fill-opacity="0.70" stroke="#001000" stroke-width="5.4"/>
<line x1="1626.0" y1="3420.5" x2="1713.0" y2="3420.5" stroke="#000" stroke-width="7.5" stroke-linecap="butt"/>
<circle cx="1799.8" cy="2784.6" r="19.1" fill="#00ffff" fill-opacity="0.92" stroke="#062020" stroke-width="4.5"/>
<circle cx="1799.8" cy="2830.8" r="19.1" fill="#00ffff" fill-opacity="0.92" stroke="#062020" stroke-width="4.5"/>
<circle cx="1800.0" cy="3043.0" r="19.1" fill="#00ffff" fill-opacity="0.92" stroke="#062020" stroke-width="4.5"/>
<circle cx="1788.2" cy="3144.1" r="19.1" fill="#00ffff" fill-opacity="0.92" stroke="#062020" stroke-width="4.5"/>
<circle cx="1817.6" cy="3144.1" r="19.1" fill="#00ffff" fill-opacity="0.92" stroke="#062020" stroke-width="4.5"/>
<circle cx="1796.0" cy="3173.5" r="19.1" fill="#00ffff" fill-opacity="0.92" stroke="#062020" stroke-width="4.5"/>
<circle cx="1808.0" cy="3173.5" r="19.1" fill="#00ffff" fill-opacity="0.92" stroke="#062020" stroke-width="4.5"/>
<circle cx="1784.3" cy="3220.6" r="19.1" fill="#00ffff" fill-opacity="0.92" stroke="#062020" stroke-width="4.5"/>
<circle cx="1817.6" cy="3220.6" r="19.1" fill="#00ffff" fill-opacity="0.92" stroke="#062020" stroke-width="4.5"/>
<circle cx="1776.0" cy="3253.9" r="19.1" fill="#00ffff" fill-opacity="0.92" stroke="#062020" stroke-width="4.5"/>
<circle cx="1800.0" cy="3253.9" r="19.1" fill="#00ffff" fill-opacity="0.92" stroke="#062020" stroke-width="4.5"/>
<circle cx="1824.0" cy="3253.9" r="19.1" fill="#00ffff" fill-opacity="0.92" stroke="#062020" stroke-width="4.5"/>
<circle cx="1784.3" cy="3306.9" r="19.1" fill="#00ffff" fill-opacity="0.92" stroke="#062020" stroke-width="4.5"/>
<circle cx="1813.7" cy="3304.9" r="19.1" fill="#00ffff" fill-opacity="0.92" stroke="#062020" stroke-width="4.5"/>
<circle cx="1788.2" cy="3332.4" r="19.1" fill="#00ffff" fill-opacity="0.92" stroke="#062020" stroke-width="4.5"/>
<circle cx="1813.7" cy="3357.8" r="19.1" fill="#00ffff" fill-opacity="0.92" stroke="#062020" stroke-width="4.5"/>
<circle cx="1788.2" cy="3387.3" r="19.1" fill="#00ffff" fill-opacity="0.92" stroke="#062020" stroke-width="4.5"/>
<line x1="1800.0" y1="3154.3" x2="1800.0" y2="3238.3" stroke="#000" stroke-width="8.5" stroke-linecap="butt"/>
<line x1="1780.5" y1="3154.3" x2="1819.5" y2="3154.3" stroke="#000" stroke-width="8.5" stroke-linecap="butt"/>
<line x1="1780.5" y1="3238.3" x2="1819.5" y2="3238.3" stroke="#000" stroke-width="8.5" stroke-linecap="butt"/>
<line x1="1756.5" y1="3196.3" x2="1843.5" y2="3196.3" stroke="#000" stroke-width="9.0" stroke-linecap="butt"/>
<circle cx="1931.9" cy="2498.9" r="18.3" fill="#0000ff" fill-opacity="0.50" stroke="#08082e" stroke-width="5.4"/>
<circle cx="1931.7" cy="2876.3" r="18.3" fill="#0000ff" fill-opacity="0.50" stroke="#08082e" stroke-width="5.4"/>
<circle cx="1931.7" cy="2922.5" r="18.3" fill="#0000ff" fill-opacity="0.50" stroke="#08082e" stroke-width="5.4"/>
<circle cx="1931.7" cy="2968.7" r="18.3" fill="#0000ff" fill-opacity="0.50" stroke="#08082e" stroke-width="5.4"/>
<circle cx="1930.0" cy="3182.0" r="18.3" fill="#0000ff" fill-opacity="0.50" stroke="#08082e" stroke-width="5.4"/>
<circle cx="1928.0" cy="3236.0" r="18.3" fill="#0000ff" fill-opacity="0.50" stroke="#08082e" stroke-width="5.4"/>
<circle cx="1922.0" cy="3170.0" r="18.3" fill="#0000ff" fill-opacity="0.50" stroke="#08082e" stroke-width="5.4"/>
<circle cx="1938.0" cy="3160.0" r="18.3" fill="#0000ff" fill-opacity="0.50" stroke="#08082e" stroke-width="5.4"/>
<circle cx="1932.0" cy="3200.0" r="18.3" fill="#0000ff" fill-opacity="0.50" stroke="#08082e" stroke-width="5.4"/>
<circle cx="1926.0" cy="3222.0" r="18.3" fill="#0000ff" fill-opacity="0.50" stroke="#08082e" stroke-width="5.4"/>
<circle cx="1957.4" cy="3139.3" r="18.3" fill="#0000ff" fill-opacity="0.50" stroke="#08082e" stroke-width="5.4"/>
<circle cx="1904.1" cy="3164.0" r="18.3" fill="#0000ff" fill-opacity="0.50" stroke="#08082e" stroke-width="5.4"/>
<circle cx="1916.0" cy="3164.1" r="18.3" fill="#0000ff" fill-opacity="0.50" stroke="#08082e" stroke-width="5.4"/>
<circle cx="1944.4" cy="3174.4" r="18.3" fill="#0000ff" fill-opacity="0.50" stroke="#08082e" stroke-width="5.4"/>
<circle cx="1958.8" cy="3176.0" r="18.3" fill="#0000ff" fill-opacity="0.50" stroke="#08082e" stroke-width="5.4"/>
<circle cx="1903.4" cy="3193.6" r="18.3" fill="#0000ff" fill-opacity="0.50" stroke="#08082e" stroke-width="5.4"/>
<circle cx="1924.0" cy="3212.7" r="18.3" fill="#0000ff" fill-opacity="0.50" stroke="#08082e" stroke-width="5.4"/>
<circle cx="1941.2" cy="3230.4" r="18.3" fill="#0000ff" fill-opacity="0.50" stroke="#08082e" stroke-width="5.4"/>
<circle cx="1921.1" cy="3251.1" r="18.3" fill="#0000ff" fill-opacity="0.50" stroke="#08082e" stroke-width="5.4"/>
<circle cx="1941.2" cy="3262.9" r="18.3" fill="#0000ff" fill-opacity="0.50" stroke="#08082e" stroke-width="5.4"/>
<circle cx="1931.9" cy="3288.0" r="18.3" fill="#0000ff" fill-opacity="0.50" stroke="#08082e" stroke-width="5.4"/>
<circle cx="1931.4" cy="3355.8" r="18.3" fill="#0000ff" fill-opacity="0.50" stroke="#08082e" stroke-width="5.4"/>
<circle cx="1950.0" cy="3375.0" r="18.3" fill="#0000ff" fill-opacity="0.50" stroke="#08082e" stroke-width="5.4"/>
<circle cx="1914.2" cy="3392.7" r="18.3" fill="#0000ff" fill-opacity="0.50" stroke="#08082e" stroke-width="5.4"/>
<line x1="1931.7" y1="3104.3" x2="1931.7" y2="3194.7" stroke="#000" stroke-width="8.5" stroke-linecap="butt"/>
<line x1="1912.2" y1="3104.3" x2="1951.2" y2="3104.3" stroke="#000" stroke-width="8.5" stroke-linecap="butt"/>
<line x1="1912.2" y1="3194.7" x2="1951.2" y2="3194.7" stroke="#000" stroke-width="8.5" stroke-linecap="butt"/>
<line x1="1888.2" y1="3149.5" x2="1975.2" y2="3149.5" stroke="#000" stroke-width="9.0" stroke-linecap="butt"/>
</g>
<g id="labels">
<text transform="matrix(1.1642 0.0000 0.0000 1.2464 47.09 127.00)" font-family="'Liberation Sans', sans-serif" font-weight="bold" fill="#000">A</text>
<text transform="matrix(1.0410 0.0000 0.0000 1.2362 49.93 1855.90)" font-family="'Liberation Sans', sans-serif" font-weight="bold" fill="#000">B</text>
<text transform="matrix(0.9847 0.0000 0.0000 1.2437 1083.76 1856.66)" font-family="'Liberation Sans', sans-serif" font-weight="bold" fill="#000">C</text>
<text transform="matrix(0.6489 0.0000 0.0000 0.6690 378.13 1043.88)" font-family="'Liberation Sans', sans-serif" font-weight="bold" fill="#000" stroke="#000" stroke-width="0.76" stroke-linejoin="round">0</text>
<text transform="matrix(0.6582 0.0000 0.0000 0.6786 376.66 914.22)" font-family="'Liberation Sans', sans-serif" font-weight="bold" fill="#000" stroke="#000" stroke-width="0.75" stroke-linejoin="round">5</text>
<text transform="matrix(0.6489 0.0000 0.0000 0.6690 342.11 784.58)" font-family="'Liberation Sans', sans-serif" font-weight="bold" fill="#000" stroke="#000" stroke-width="0.76" stroke-linejoin="round">10</text>
<text transform="matrix(0.6582 0.0000 0.0000 0.6786 340.13 654.92)" font-family="'Liberation Sans', sans-serif" font-weight="bold" fill="#000" stroke="#000" stroke-width="0.75" stroke-linejoin="round">15</text>
<text transform="matrix(0.6489 0.0000 0.0000 0.6690 342.11 525.28)" font-family="'Liberation Sans', sans-serif" font-weight="bold" fill="#000" stroke="#000" stroke-width="0.76" stroke-linejoin="round">20</text>
<text transform="matrix(0.6489 0.0000 0.0000 0.6690 341.14 395.63)" font-family="'Liberation Sans', sans-serif" font-weight="bold" fill="#000" stroke="#000" stroke-width="0.76" stroke-linejoin="round">25</text>
<text transform="matrix(0.6421 0.0000 0.0000 0.6620 488.68 1141.84)" font-family="'Liberation Sans', sans-serif" font-weight="bold" fill="#000" stroke="#000" stroke-width="0.77" stroke-linejoin="round">0</text>
<text transform="matrix(0.6607 0.0000 0.0000 0.6812 658.14 1142.50)" font-family="'Liberation Sans', sans-serif" font-weight="bold" fill="#000" stroke="#000" stroke-width="0.75" stroke-linejoin="round">1</text>
<text transform="matrix(0.6513 0.0000 0.0000 0.6714 831.19 1142.50)" font-family="'Liberation Sans', sans-serif" font-weight="bold" fill="#000" stroke="#000" stroke-width="0.76" stroke-linejoin="round">2</text>
<text transform="matrix(0.6421 0.0000 0.0000 0.6620 1002.90 1141.84)" font-family="'Liberation Sans', sans-serif" font-weight="bold" fill="#000" stroke="#000" stroke-width="0.77" stroke-linejoin="round">3</text>
<text transform="matrix(0.6607 0.0000 0.0000 0.6812 1173.03 1142.50)" font-family="'Liberation Sans', sans-serif" font-weight="bold" fill="#000" stroke="#000" stroke-width="0.75" stroke-linejoin="round">4</text>
<text transform="matrix(0.6513 0.0000 0.0000 0.6714 1344.76 1141.83)" font-family="'Liberation Sans', sans-serif" font-weight="bold" fill="#000" stroke="#000" stroke-width="0.76" stroke-linejoin="round">5</text>
<text transform="matrix(0.6421 0.0000 0.0000 0.6620 1516.48 1141.84)" font-family="'Liberation Sans', sans-serif" font-weight="bold" fill="#000" stroke="#000" stroke-width="0.77" stroke-linejoin="round">6</text>
<text transform="matrix(0.6607 0.0000 0.0000 0.6812 1687.26 1142.50)" font-family="'Liberation Sans', sans-serif" font-weight="bold" fill="#000" stroke="#000" stroke-width="0.75" stroke-linejoin="round">7</text>
<text transform="matrix(0.0000 -0.7839 0.8000 0.0000 295.40 1235.78)" font-family="'Liberation Sans', sans-serif" font-weight="bold" fill="#000" stroke="#000" stroke-width="0.76" stroke-linejoin="round">fold change [of d0 per tumor]</text>
<text transform="matrix(0.7605 0.0000 0.0000 0.7752 955.94 1266.20)" font-family="'Liberation Sans', sans-serif" font-weight="bold" fill="#000" stroke="#000" stroke-width="0.78" stroke-linejoin="round">time [d]</text>
<text transform="matrix(0.7156 0.0000 0.0000 0.6899 620.08 1393.70)" font-family="'Liberation Sans', sans-serif" font-weight="normal" fill="#000" stroke="#000" stroke-width="1.28" stroke-linejoin="round">DMSO (n=12)</text>
<text transform="matrix(0.7505 0.0000 0.0000 0.6899 621.92 1530.80)" font-family="'Liberation Sans', sans-serif" fill="#000" stroke="#000" stroke-width="1.25" stroke-linejoin="round"><tspan font-weight="bold">1</tspan><tspan font-weight="normal">, 5 µM (n=25)</tspan></text>
<text transform="matrix(0.7508 0.0000 0.0000 0.6899 1592.47 1393.70)" font-family="'Liberation Sans', sans-serif" fill="#000" stroke="#000" stroke-width="1.25" stroke-linejoin="round"><tspan font-weight="bold">2</tspan><tspan font-weight="normal">, 0.1 µM (n=17)</tspan></text>
<text transform="matrix(0.7508 0.0000 0.0000 0.6899 1592.47 1530.80)" font-family="'Liberation Sans', sans-serif" fill="#000" stroke="#000" stroke-width="1.25" stroke-linejoin="round"><tspan font-weight="bold">2</tspan><tspan font-weight="normal">, 0.5 µM (n=20)</tspan></text>
<text transform="matrix(0.6571 0.0000 0.0000 0.6775 349.31 3462.47)" font-family="'Liberation Sans', sans-serif" font-weight="bold" fill="#000" stroke="#000" stroke-width="0.75" stroke-linejoin="round">0</text>
<text transform="matrix(0.6571 0.0000 0.0000 0.6775 312.84 3169.83)" font-family="'Liberation Sans', sans-serif" font-weight="bold" fill="#000" stroke="#000" stroke-width="0.75" stroke-linejoin="round">20</text>
<text transform="matrix(0.6571 0.0000 0.0000 0.6775 312.84 2877.19)" font-family="'Liberation Sans', sans-serif" font-weight="bold" fill="#000" stroke="#000" stroke-width="0.75" stroke-linejoin="round">40</text>
<text transform="matrix(0.6571 0.0000 0.0000 0.6775 312.84 2584.55)" font-family="'Liberation Sans', sans-serif" font-weight="bold" fill="#000" stroke="#000" stroke-width="0.75" stroke-linejoin="round">60</text>
<text transform="matrix(0.0000 -0.7202 0.7793 0.0000 260.60 3310.32)" font-family="'Liberation Sans', sans-serif" font-weight="bold" fill="#000" stroke="#000" stroke-width="0.80" stroke-linejoin="round">tumor area [% of d0]</text>
<text transform="matrix(0.8255 0.0000 0.0000 0.8707 669.30 2123.33)" font-family="'Liberation Sans', sans-serif" font-weight="bold" fill="#000">d5</text>
<text transform="matrix(0.7729 0 0 0.8796 0 0)" x="698.72 767.29" y="3053.11" font-family="'DejaVu Sans', sans-serif" font-weight="bold" fill="#000" stroke="#000" stroke-width="3.15" stroke-linejoin="round">**</text>
<text transform="matrix(0.5508 0.0000 0.0000 0.6218 624.27 2468.03)" font-family="'Liberation Sans', sans-serif" font-weight="normal" fill="#1c1c1c" stroke="#000" stroke-width="0.51" stroke-linejoin="round">ns</text>
<text transform="matrix(0.5518 0.0000 0.0000 0.6073 688.06 2277.14)" font-family="'Liberation Sans', sans-serif" font-weight="normal" fill="#1c1c1c" stroke="#000" stroke-width="0.52" stroke-linejoin="round">ns</text>
<text transform="matrix(0.6571 0.0000 0.0000 0.6775 1366.41 3450.57)" font-family="'Liberation Sans', sans-serif" font-weight="bold" fill="#000" stroke="#000" stroke-width="0.75" stroke-linejoin="round">0</text>
<text transform="matrix(0.6571 0.0000 0.0000 0.6775 1329.94 3157.93)" font-family="'Liberation Sans', sans-serif" font-weight="bold" fill="#000" stroke="#000" stroke-width="0.75" stroke-linejoin="round">20</text>
<text transform="matrix(0.6571 0.0000 0.0000 0.6775 1329.94 2865.29)" font-family="'Liberation Sans', sans-serif" font-weight="bold" fill="#000" stroke="#000" stroke-width="0.75" stroke-linejoin="round">40</text>
<text transform="matrix(0.6571 0.0000 0.0000 0.6775 1329.94 2572.65)" font-family="'Liberation Sans', sans-serif" font-weight="bold" fill="#000" stroke="#000" stroke-width="0.75" stroke-linejoin="round">60</text>
<text transform="matrix(0.0000 -0.7202 0.7793 0.0000 1277.70 3298.42)" font-family="'Liberation Sans', sans-serif" font-weight="bold" fill="#000" stroke="#000" stroke-width="0.80" stroke-linejoin="round">tumor area [% of d0]</text>
<text transform="matrix(0.8230 0.0000 0.0000 0.8707 1688.71 1805.43)" font-family="'Liberation Sans', sans-serif" font-weight="bold" fill="#000">d7</text>
<text transform="matrix(0.7583 0 0 0.8688 0 0)" x="2019.67 2088.64 2157.47" y="2719.94" font-family="'DejaVu Sans', sans-serif" font-weight="bold" fill="#000" stroke="#000" stroke-width="3.20" stroke-linejoin="round">***</text>
<text transform="matrix(0.5487 0.0000 0.0000 0.6091 1639.88 2146.74)" font-family="'Liberation Sans', sans-serif" font-weight="normal" fill="#1c1c1c" stroke="#000" stroke-width="0.52" stroke-linejoin="round">ns</text>
<text transform="matrix(0.5529 0.0000 0.0000 0.6073 1705.86 1954.84)" font-family="'Liberation Sans', sans-serif" font-weight="normal" fill="#1c1c1c" stroke="#000" stroke-width="0.52" stroke-linejoin="round">ns</text>
</g>
</svg>
</body></html>
